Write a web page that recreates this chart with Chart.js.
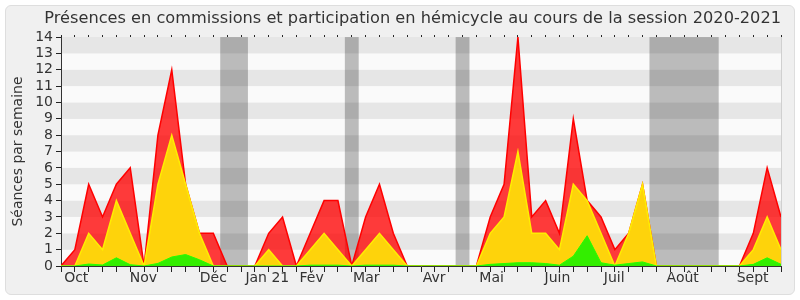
<!DOCTYPE html>
<html>
<head>
<meta charset="utf-8">
<script src="https://cdn.jsdelivr.net/npm/chart.js"></script>
<style>
    body { margin: 0; background: #fff; }
    #wrap { position: relative; width: 800px; height: 300px; }
    #box {
        position: absolute; left: 5px; top: 5px; width: 790px; height: 290px;
        box-sizing: border-box; border: 1px solid #dedede; border-radius: 6px; background: #f0f0f0;
    }
    #myChart { position: absolute; left: 0; top: 0; }
</style>
</head>
<body>
<div id="wrap">
    <div id="box"></div>
    <canvas id="myChart" width="800" height="300"></canvas>
</div>
<script>
//weekly values, one per week of the session
const presence = [0, 1, 5, 3, 5, 6, 0, 8, 12, 5, 2, 2, 0, 0, 0, 2, 3, 0, 2, 4, 4, 0, 3, 5, 2, 0, 0,
    0, 0, 0, 0, 3, 5, 14, 3, 4, 2, 9, 4, 3, 1, 2, 5, 0, 0, 0, 0, 0, 0, 0, 2, 6, 3];
const commission = [0, 0, 2, 1, 4, 2, 0, 5, 8, 5, 2, 0, 0, 0, 0, 1, 0, 0, 1, 2, 1, 0, 1, 2, 1, 0, 0,
    0, 0, 0, 0, 2, 3, 7, 2, 2, 1, 5, 4, 2, 0, 2, 5, 0, 0, 0, 0, 0, 0, 0, 1, 3, 1];
const hemicycle = [0, 0, 0.12, 0.06, 0.5, 0.08, 0, 0.16, 0.55, 0.7, 0.38, 0, 0, 0, 0, 0, 0, 0, 0.05, 0.05, 0.05, 0, 0.05, 0.05, 0.05, 0, 0,
    0, 0, 0, 0, 0.1, 0.15, 0.2, 0.2, 0.15, 0.05, 0.6, 1.85, 0.2, 0.05, 0.15, 0.25, 0, 0, 0, 0, 0, 0, 0, 0.1, 0.5, 0.1];
//parliament breaks, in weeks
const breaks = [[11.5, 13.5], [20.5, 21.5], [28.5, 29.5], [42.5, 47.5]];
//month labels and where they sit, in weeks
const months = ["Oct", "Nov", "Déc", "Jan 21", "Fév", "Mar", "Avr", "Mai", "Juin", "Juil", "Août", "Sept"];
const monthWeeks = [1.1, 5.95, 11, 14.9, 18.1, 22.05, 26.95, 31.1, 35.85, 39.95, 44.9, 49.95];
const yTicks = [0, 1, 2, 3, 4, 5, 6, 7, 8, 9, 10, 11, 12, 13, 14];

const weeks = presence.map((v, i) => i);
const font = "'DejaVu Sans', Verdana, sans-serif";

function points(arr) {
    return arr.map((v, i) => ({ x: i, y: v }));
}

//stripes and breaks behind the chart
const backdrop = {
    id: 'backdrop',
    beforeDraw(chart) {
        let ctx = chart.ctx;
        let a = chart.chartArea;
        let x = chart.scales.x;
        let y = chart.scales.y;
        ctx.save();
        for (let i = 0; i < yTicks.length - 1; i++) {
            let top = y.getPixelForValue(yTicks[i + 1]);
            let bot = y.getPixelForValue(yTicks[i]);
            ctx.fillStyle = i % 2 ? '#e6e6e6' : '#fafafa';
            ctx.fillRect(a.left, top, a.right - a.left, bot - top);
        }
        ctx.fillStyle = 'rgba(0,0,0,0.25)';
        breaks.forEach(b => {
            let l = x.getPixelForValue(b[0]);
            let r = x.getPixelForValue(b[1]);
            ctx.fillRect(l, a.top, r - l, a.bottom - a.top);
        });
        //thin frame on the right
        ctx.fillStyle = '#d0d0d0';
        ctx.fillRect(a.right, a.top, 1, a.bottom - a.top);
        ctx.restore();
    }
};

function weekTicks(scale) {
    scale.ticks = weeks.map(v => ({ value: v }));
}

let ctx = document.getElementById('myChart').getContext('2d');
let myChart = new Chart(ctx, {
    type: 'line',
    data: {
        datasets: [{
            data: points(hemicycle),
            borderColor: '#22ff00',
            backgroundColor: '#33ee00',
            borderWidth: 1,
            fill: 'origin'
        }, {
            data: points(commission),
            borderColor: '#ffee00',
            backgroundColor: '#fed30b',
            borderWidth: 1.5,
            fill: 'origin'
        }, {
            data: points(presence),
            borderColor: '#ff0000',
            backgroundColor: 'rgba(255, 0, 0, 0.77)',
            borderWidth: 1.5,
            fill: 'origin'
        }]
    },
    options: {
        responsive: false,
        animation: false,
        elements: { point: { radius: 0 }, line: { tension: 0 } },
        layout: { padding: { left: 8, right: 19, top: 2, bottom: 10 } },
        plugins: {
            legend: { display: false },
            tooltip: { enabled: false },
            title: {
                display: true,
                text: 'Présences en commissions et participation en hémicycle au cours de la session 2020-2021',
                align: 'end',
                color: '#333',
                font: { family: font, size: 16.2, weight: 'normal' },
                padding: { top: 7.3, bottom: 5.3 }
            }
        },
        scales: {
            x: {
                type: 'linear', min: 0, max: 52,
                afterBuildTicks: weekTicks,
                afterFit: s => { s.height = 4; },
                ticks: { display: false },
                grid: { drawOnChartArea: false, tickLength: 6, color: '#222' },
                border: { color: '#333' }
            },
            xm: {
                type: 'linear', min: 0, max: 52, position: 'bottom', weight: 1,
                afterBuildTicks: s => { s.ticks = monthWeeks.map(v => ({ value: v })); },
                afterFit: s => { s.height = 20; },
                ticks: {
                    autoSkip: false, maxRotation: 0, padding: 0, color: '#333',
                    font: { family: font, size: 14 },
                    callback: (v, i) => months[i]
                },
                grid: { display: false, drawTicks: false },
                border: { display: false }
            },
            xt: {
                type: 'linear', min: 0, max: 52, position: 'top',
                afterBuildTicks: weekTicks,
                afterFit: s => { s.height = 3; },
                ticks: { display: false },
                grid: { drawOnChartArea: false, tickLength: 2, color: '#222' },
                border: { display: false }
            },
            y: {
                min: 0, max: 14,
                afterBuildTicks: s => { s.ticks = yTicks.map(v => ({ value: v })); },
                afterFit: s => { s.width = 53; },
                ticks: { autoSkip: false, padding: 3, color: '#333', font: { family: font, size: 14 } },
                grid: { drawOnChartArea: false, tickLength: 5, color: '#222' },
                border: { color: '#333' },
                title: {
                    display: true,
                    text: 'Séances par semaine',
                    color: '#333',
                    font: { family: font, size: 14 },
                    padding: { top: 2, bottom: 0 }
                }
            }
        }
    },
    plugins: [backdrop]
});
</script>
</body>
</html>
